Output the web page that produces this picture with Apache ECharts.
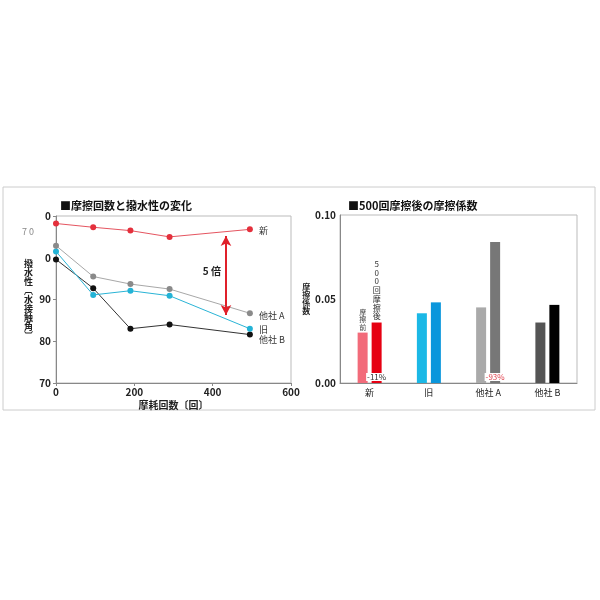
<!DOCTYPE html>
<html>
<head>
<meta charset="utf-8">
<style>
html, body { margin: 0; padding: 0; background: #fff; }
#chart { width: 600px; height: 600px; }
</style>
<script src="https://cdn.jsdelivr.net/npm/echarts@6/dist/echarts.min.js"></script>
</head>
<body>
<div id="chart"></div>
<script>
// 摩擦回数と撥水性の変化
var rubCounts = [0, 95, 190, 290, 495];
var waterNew = [108.2, 107.3, 106.5, 105.0, 106.8];
var waterA = [102.9, 95.5, 93.7, 92.5, 86.7];
var waterOld = [101.5, 91.1, 92.1, 90.9, 83.0];
var waterB = [99.6, 92.7, 83.0, 84.0, 81.6];
var waterTicks = [70, 80, 90, 100, 110];
var waterTickLabels = ['70', '80', '90', '0', '0'];

// 500回摩擦後の摩擦係数
var makers = ['新', '旧', '他社 A', '他社 B'];
var frictionBefore = [0.030, 0.0415, 0.045, 0.036];
var frictionAfter = [0.036, 0.048, 0.084, 0.0465];
var changeNotes = ['-11%', '', '-93%', ''];
var colorsBefore = ['#f26b7a', '#1bb8e6', '#aaaaaa', '#555555'];
var colorsAfter = ['#e60012', '#0a96dc', '#777777', '#000000'];

var font = '"Noto Sans CJK JP", "Noto Sans", sans-serif';

function pairs(ys) {
	return rubCounts.map(function (x, i) { return [x, ys[i]]; });
}

function lineSeries(name, ys, lineColor, dotColor, offsetY) {
	return {
		name: name,
		type: 'line',
		xAxisIndex: 0,
		yAxisIndex: 0,
		data: pairs(ys),
		symbol: 'circle',
		symbolSize: 6,
		itemStyle: { color: dotColor },
		lineStyle: { color: lineColor, width: 1 },
		endLabel: {
			show: true,
			formatter: name,
			distance: 9,
			offset: [0, offsetY || 0],
			fontSize: 9,
			color: '#333',
			fontFamily: font
		},
		z: 3
	};
}

var redLine = lineSeries('新', waterNew, '#e55560', '#e4303c', 1);
redLine.markLine = {
	silent: true,
	symbol: ['arrow', 'arrow'],
	symbolSize: [8, 10],
	lineStyle: { color: '#e0202a', width: 2, type: 'solid' },
	label: { show: false },
	data: [[{ coord: [434, 105.2] }, { coord: [434, 86.3] }]]
};
redLine.markPoint = {
	silent: true,
	symbol: 'circle',
	symbolSize: 0,
	label: {
		show: true,
		position: 'inside',
		formatter: '5 倍',
		color: '#222',
		fontSize: 10,
		fontWeight: 'bold',
		fontFamily: font
	},
	data: [{ coord: [398, 96.8] }]
};

var chart = echarts.init(document.getElementById('chart'));

var option = {
	backgroundColor: '#fff',
	animation: false,
	textStyle: { fontFamily: font },
	title: [
		{
			text: '■摩擦回数と撥水性の変化',
			left: 55, top: 195,
			textStyle: { fontSize: 11, fontWeight: 'bold', color: '#111', fontFamily: font }
		},
		{
			text: '■500回摩擦後の摩擦係数',
			left: 343, top: 195,
			textStyle: { fontSize: 11, fontWeight: 'bold', color: '#111', fontFamily: font }
		}
	],
	graphic: [
		{
			type: 'rect',
			shape: { x: 3, y: 187, width: 592, height: 223 },
			style: { fill: 'none', stroke: '#cccccc', lineWidth: 1 },
			silent: true
		},
		{
			type: 'text',
			left: 22, top: 227,
			style: { text: '7 0', fill: '#888', font: '9px ' + font }
		}
	],
	grid: [
		{ left: 56, right: 309, top: 216, bottom: 217, show: true, borderColor: '#bbbbbb', borderWidth: 1 },
		{ left: 340, right: 23, top: 215, bottom: 217, show: true, borderColor: '#bbbbbb', borderWidth: 1 }
	],
	xAxis: [
		{
			gridIndex: 0,
			type: 'value',
			min: 0, max: 600, interval: 200,
			name: '摩耗回数〔回〕',
			nameLocation: 'middle',
			nameGap: 17,
			nameTextStyle: { fontSize: 10, fontWeight: 'bold', color: '#222', fontFamily: font },
			axisLine: { show: true, lineStyle: { color: '#888' } },
			axisTick: { show: true, length: 3, lineStyle: { color: '#888' } },
			axisLabel: { fontSize: 10, fontWeight: 'bold', color: '#222', margin: 4 },
			splitLine: { show: false }
		},
		{
			gridIndex: 1,
			type: 'category',
			data: makers,
			axisLine: { show: true, lineStyle: { color: '#888' } },
			axisTick: { show: false },
			axisLabel: { fontSize: 9, color: '#222', margin: 5, fontFamily: font },
			splitLine: { show: false }
		}
	],
	yAxis: [
		{
			gridIndex: 0,
			type: 'value',
			min: 70, max: 110, interval: 10,
			name: '撥\n水\n性\n︹\n水\n接\n触\n角\n︺',
			nameLocation: 'middle',
			nameGap: 23,
			nameRotate: 0,
			nameTextStyle: { fontSize: 9, fontWeight: 'bold', color: '#222', lineHeight: 9, fontFamily: font, padding: [0, 0, 10, 0] },
			axisLine: { show: true, lineStyle: { color: '#888' } },
			axisTick: { show: true, length: 3, lineStyle: { color: '#888' } },
			axisLabel: {
				fontSize: 10, fontWeight: 'bold', color: '#222', margin: 5,
				formatter: function (v) {
					var i = waterTicks.indexOf(v);
					return i < 0 ? '' : waterTickLabels[i];
				}
			},
			splitLine: { show: false }
		},
		{
			gridIndex: 1,
			type: 'value',
			min: 0, max: 0.1, interval: 0.05,
			name: '摩\n擦\n係\n数',
			nameLocation: 'middle',
			nameGap: 28,
			nameRotate: 0,
			nameTextStyle: { fontSize: 8, fontWeight: 'bold', color: '#222', lineHeight: 8, fontFamily: font, padding: [0, 0, 18, 0] },
			axisLine: { show: true, lineStyle: { color: '#888' } },
			axisTick: { show: false },
			axisLabel: {
				fontSize: 10, fontWeight: 'bold', color: '#222', margin: 4,
				formatter: function (v) { return v.toFixed(2); }
			},
			splitLine: { show: false }
		}
	],
	series: [
		lineSeries('他社 B', waterB, '#333333', '#111111', 5),
		lineSeries('旧', waterOld, '#2ab4d6', '#23b3d6', 1),
		lineSeries('他社 A', waterA, '#a8a8a8', '#8a8a8a', 2),
		redLine,
		{
			name: '摩擦前',
			type: 'bar',
			xAxisIndex: 1,
			yAxisIndex: 1,
			barWidth: 10,
			barGap: '40%',
			data: frictionBefore.map(function (v, i) {
				var item = { value: v, itemStyle: { color: colorsBefore[i] } };
				if (i === 0) {
					item.label = {
						show: true, position: 'top', distance: 2,
						formatter: '摩\n擦\n前',
						fontSize: 7, lineHeight: 7.5, color: '#444', fontFamily: font
					};
				}
				return item;
			})
		},
		{
			name: '500回摩擦後',
			type: 'bar',
			stack: 'after',
			xAxisIndex: 1,
			yAxisIndex: 1,
			barWidth: 10,
			data: frictionAfter.map(function (v, i) {
				var item = { value: v, itemStyle: { color: colorsAfter[i] } };
				if (changeNotes[i]) {
					item.label = {
						show: true, position: 'insideBottom', distance: 2,
						formatter: changeNotes[i],
						fontSize: 8, color: i === 0 ? '#333' : '#e0404c',
						backgroundColor: '#fff', padding: [0, 1], fontFamily: font
					};
				}
				return item;
			})
		},
		{
			name: '500回摩擦後ラベル',
			type: 'bar',
			stack: 'after',
			xAxisIndex: 1,
			yAxisIndex: 1,
			barWidth: 10,
			silent: true,
			itemStyle: { color: 'transparent' },
			data: makers.map(function (m, i) {
				var item = { value: 0 };
				item.label = i === 0 ? {
					show: true, position: 'top', distance: 2,
					formatter: '5\n0\n0\n回\n摩\n擦\n後',
					fontSize: 8, lineHeight: 8.7, color: '#333', fontFamily: font
				} : { show: false };
				return item;
			})
		}
	]
};

chart.setOption(option);
</script>
</body>
</html>
